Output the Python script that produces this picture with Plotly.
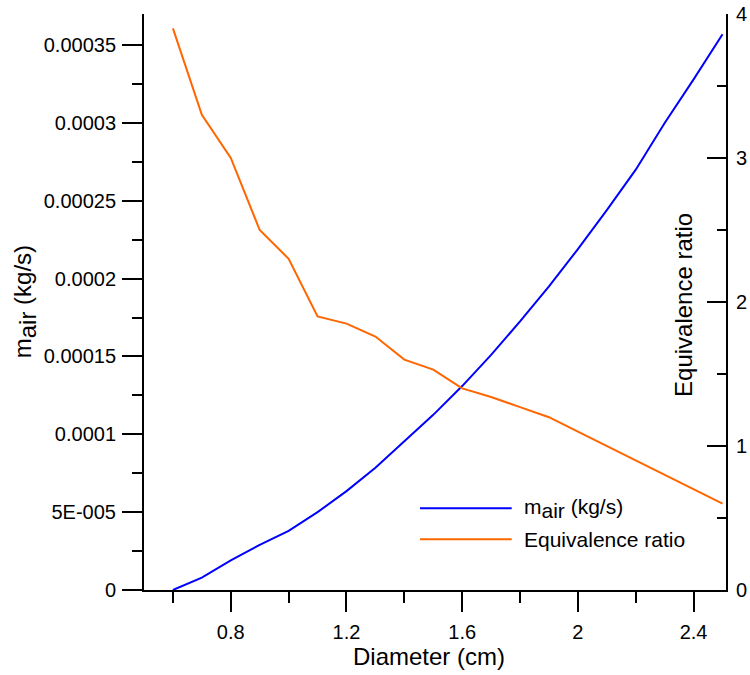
import plotly.graph_objects as go

# ---- data ----
diameter_cm = [0.6, 0.7, 0.8, 0.9, 1.0, 1.1, 1.2, 1.3, 1.4, 1.5,
               1.6, 1.7, 1.8, 1.9, 2.0, 2.1, 2.2, 2.3, 2.4, 2.5]
m_air_kg_s = [0.0, 0.08e-4, 0.19e-4, 0.29e-4, 0.38e-4, 0.50e-4, 0.635e-4, 0.785e-4,
              0.955e-4, 1.125e-4, 1.31e-4, 1.51e-4, 1.725e-4, 1.95e-4, 2.19e-4,
              2.44e-4, 2.70e-4, 3.00e-4, 3.28e-4, 3.57e-4]
equivalence_ratio = [3.9, 3.3, 3.0, 2.5, 2.3, 1.9, 1.85, 1.76, 1.6, 1.53,
                     1.4, 1.34, 1.27, 1.2, 1.1, 1.0, 0.9, 0.8, 0.7, 0.6]

left_tickvals = [0, 0.00005, 0.0001, 0.00015, 0.0002, 0.00025, 0.0003, 0.00035]
left_ticktext = ["0", "5E-005", "0.0001", "0.00015", "0.0002", "0.00025", "0.0003", "0.00035"]
left_minor = [0.000025, 0.000075, 0.000125, 0.000175, 0.000225, 0.000275, 0.000325]
x_tickvals = [0.8, 1.2, 1.6, 2.0, 2.4]
x_ticktext = ["0.8", "1.2", "1.6", "2", "2.4"]
x_minor = [0.6, 1.0, 1.4, 1.8, 2.2]
right_tickvals = [0, 1, 2, 3, 4]
right_minor = [0.5, 1.5, 2.5, 3.5]

BLUE = "#0000FF"
ORANGE = "#FF6600"
FONT = "Liberation Sans, Arial, sans-serif"

fig = go.Figure()
fig.add_trace(go.Scatter(x=diameter_cm, y=m_air_kg_s, mode="lines",
                         line=dict(color=BLUE, width=2), yaxis="y", showlegend=False))
fig.add_trace(go.Scatter(x=diameter_cm, y=equivalence_ratio, mode="lines",
                         line=dict(color=ORANGE, width=2), yaxis="y2", showlegend=False))

axis_common = dict(showgrid=False, zeroline=False, showline=True, linecolor="black",
                   linewidth=2, tickcolor="black", tickwidth=2, automargin=False,
                   tickfont=dict(family=FONT, size=20, color="black"))

fig.update_layout(
    width=750, height=675,
    margin=dict(l=144, r=24, t=14, b=85),
    paper_bgcolor="white", plot_bgcolor="white",
    font=dict(family=FONT, color="black"),
    xaxis=dict(range=[0.5, 2.512], tickmode="array", tickvals=x_tickvals, ticktext=x_ticktext,
               ticks="outside", ticklen=20, ticklabelstandoff=3,
               minor=dict(tickmode="array", tickvals=x_minor, ticks="outside", ticklen=11,
                          tickwidth=2, tickcolor="black"),
               **axis_common),
    yaxis=dict(range=[0, 0.00037], tickmode="array", tickvals=left_tickvals, ticktext=left_ticktext,
               ticks="outside", ticklen=20, ticklabelstandoff=2,
               minor=dict(tickmode="array", tickvals=left_minor, ticks="outside", ticklen=10,
                          tickwidth=2, tickcolor="black"),
               **axis_common),
    yaxis2=dict(range=[0, 4], overlaying="y", side="right", tickmode="array",
                tickvals=right_tickvals, ticks="inside", ticklen=19, ticklabelstandoff=4,
                minor=dict(tickmode="array", tickvals=right_minor, ticks="inside", ticklen=9,
                           tickwidth=2, tickcolor="black"),
                **axis_common),
)

# axis titles
fig.add_annotation(text="Diameter (cm)", xref="paper", yref="paper", x=0.489, y=-0.1163,
                   xanchor="center", yanchor="middle", showarrow=False,
                   font=dict(family=FONT, size=24, color="black"))
fig.add_annotation(text="m<sub><span style='font-size:24px'>air</span></sub> (kg/s)",
                   xref="paper", yref="paper", x=-0.204, y=0.5, textangle=-90,
                   xanchor="center", yanchor="middle", showarrow=False,
                   font=dict(family=FONT, size=24, color="black"))
fig.add_annotation(text="Equivalence ratio", xref="paper", yref="paper", x=0.928, y=0.495,
                   textangle=-90, xanchor="center", yanchor="middle", showarrow=False,
                   font=dict(family=FONT, size=24, color="black"))

# manual legend
legend_items = [("m<sub><span style='font-size:21px'>air</span></sub> (kg/s)", BLUE, 0.1418),
                ("Equivalence ratio", ORANGE, 0.0880)]
for label, color, ypos in legend_items:
    fig.add_shape(type="line", xref="paper", yref="paper", x0=0.4742, x1=0.6318,
                  y0=ypos, y1=ypos, line=dict(color=color, width=2))
    fig.add_annotation(text=label, xref="paper", yref="paper", x=0.649, y=ypos,
                       xanchor="left", yanchor="middle", showarrow=False,
                       font=dict(family=FONT, size=21, color="black"))

fig.write_html("out.html")
